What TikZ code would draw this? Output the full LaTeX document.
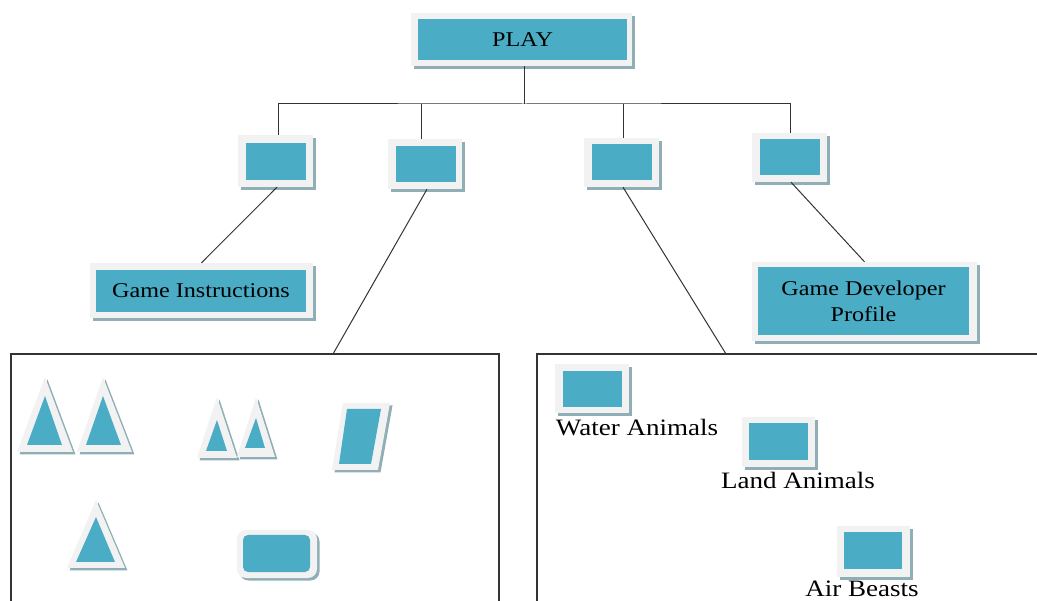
\documentclass[tikz,border=0pt]{standalone}
\usepackage{fontspec}
\setmainfont{Liberation Serif}[FakeStretch=1.15]
\usetikzlibrary{shadows}
\definecolor{tealc}{HTML}{4BACC6}
\definecolor{framec}{HTML}{F2F2F2}
\definecolor{shadowc}{HTML}{8FAEB6}
\definecolor{linec}{HTML}{333333}
\tikzset{
  frame/.style={fill=framec, draw=none, inner sep=0pt,
    drop shadow={shadow xshift=3pt, shadow yshift=-3pt, fill=shadowc, opacity=1}},
  inner/.style={fill=tealc, draw=none, inner sep=0pt, align=center, font=\fontsize{21}{26}\selectfont},
  conn/.style={draw=linec, line width=1pt},
  panel/.style={draw=linec, line width=1.6pt},
  lbl/.style={inner sep=0pt, font=\fontsize{23.5}{28}\selectfont, text=black},
  shp/.style={fill=framec, draw=none,
    drop shadow={shadow xshift=2.5pt, shadow yshift=-2.5pt, fill=shadowc, opacity=1}},
  shpin/.style={fill=tealc, draw=none}
}
\begin{document}
\begin{tikzpicture}[x=1pt,y=-1pt]
\useasboundingbox (0,0) rectangle (1037,601);
% top box
\node[frame, minimum width=221pt, minimum height=53pt] (play) at (521.5,39.5) {};
\node[inner, minimum width=209pt, minimum height=41pt] (playin) at (522.5,39.5) {PLAY};
% second row boxes
\node[frame, minimum width=75pt, minimum height=52pt] (b1) at (275.5,161) {};
\node[inner, minimum width=60pt, minimum height=37pt] at (276,161.5) {};
\node[frame, minimum width=74pt, minimum height=50pt] (b2) at (425,164) {};
\node[inner, minimum width=60pt, minimum height=36pt] at (426,164) {};
\node[frame, minimum width=75pt, minimum height=49pt] (b3) at (621.5,162.5) {};
\node[inner, minimum width=60pt, minimum height=36pt] at (622,162.5) {};
\node[frame, minimum width=75pt, minimum height=49pt] (b4) at (789.5,157.5) {};
\node[inner, minimum width=60pt, minimum height=36pt] at (790,157.5) {};
% bus
\coordinate (bus) at (524,104);
\draw[conn] (play.south -| bus) -- (bus);
\draw[conn] (b1.north -| 278,0) |- (bus) -| (b4.north -| 790,0);
\draw[conn] (b2.north -| 421,0) -- (421,104);
\draw[conn] (b3.north -| 623,0) -- (623,104);
% third row
\node[frame, minimum width=223pt, minimum height=55pt] (gi) at (201.5,290.5) {};
\node[inner, minimum width=210pt, minimum height=42pt] at (201,291) {Game Instructions};
\node[frame, minimum width=225pt, minimum height=79pt] (gdp) at (864.5,301.5) {};
\node[inner, minimum width=211pt, minimum height=68pt] at (863.5,301) {Game Developer\\Profile};
% panels
\coordinate (lp) at (333,354);
\coordinate (rp) at (726,354);
\draw[panel] (11,602) -- (11,354) -- (499,354) -- (499,602);
\draw[panel] (537,602) -- (537,354) -- (1038,354);
% connectors to lower level
\draw[conn] (b1.south -| 277,0) -- (gi.north);
\draw[conn] (b2.south -| 427,0) -- (lp);
\draw[conn] (b3.south -| 623,0) -- (rp);
\draw[conn] (b4.south -| 791,0) -- (gdp.north);
% left panel shapes
\fill[shp] (45,377) -- (73,452) -- (17,452) -- cycle;
\fill[shpin] (45,396) -- (62,445) -- (27,445) -- cycle;
\fill[shp] (103,377) -- (132,452) -- (77,452) -- cycle;
\fill[shpin] (103,396) -- (121,445) -- (86,445) -- cycle;
\fill[shp] (217,397) -- (237,458) -- (197,458) -- cycle;
\fill[shpin] (217,420) -- (227,451) -- (206,451) -- cycle;
\fill[shp] (256,397) -- (275,457) -- (237,457) -- cycle;
\fill[shpin] (256,418) -- (265,448) -- (245,448) -- cycle;
\fill[shp] (343,403) -- (390,403) -- (378,470) -- (332,470) -- cycle;
\fill[shpin] (347,409) -- (381,409) -- (371,464) -- (339,464) -- cycle;
\fill[shp] (96,500) -- (125,568) -- (67,568) -- cycle;
\fill[shpin] (96,517) -- (115,562) -- (76,562) -- cycle;
\fill[shp, rounded corners=9pt] (237,530) rectangle (317,578);
\fill[shpin, rounded corners=5pt] (243,535) rectangle (310,572);
% right panel
\node[frame, minimum width=74pt, minimum height=49pt] (wa) at (592,388.5) {};
\node[inner, minimum width=59pt, minimum height=36pt] at (592.5,389) {};
\node[lbl, anchor=base] (wal) at (637,436) {Water Animals};
\node[frame, minimum width=73pt, minimum height=50pt] (la) at (778.5,442) {};
\node[inner, minimum width=59pt, minimum height=37pt] at (778.5,441.5) {};
\node[lbl, anchor=base] (lal) at (798,489) {Land Animals};
\node[frame, minimum width=73pt, minimum height=51pt] (ab) at (873.5,551.5) {};
\node[inner, minimum width=58pt, minimum height=37pt] at (873,550.5) {};
\node[lbl, anchor=base] (abl) at (862,596) {Air Beasts};
\end{tikzpicture}
\end{document}
